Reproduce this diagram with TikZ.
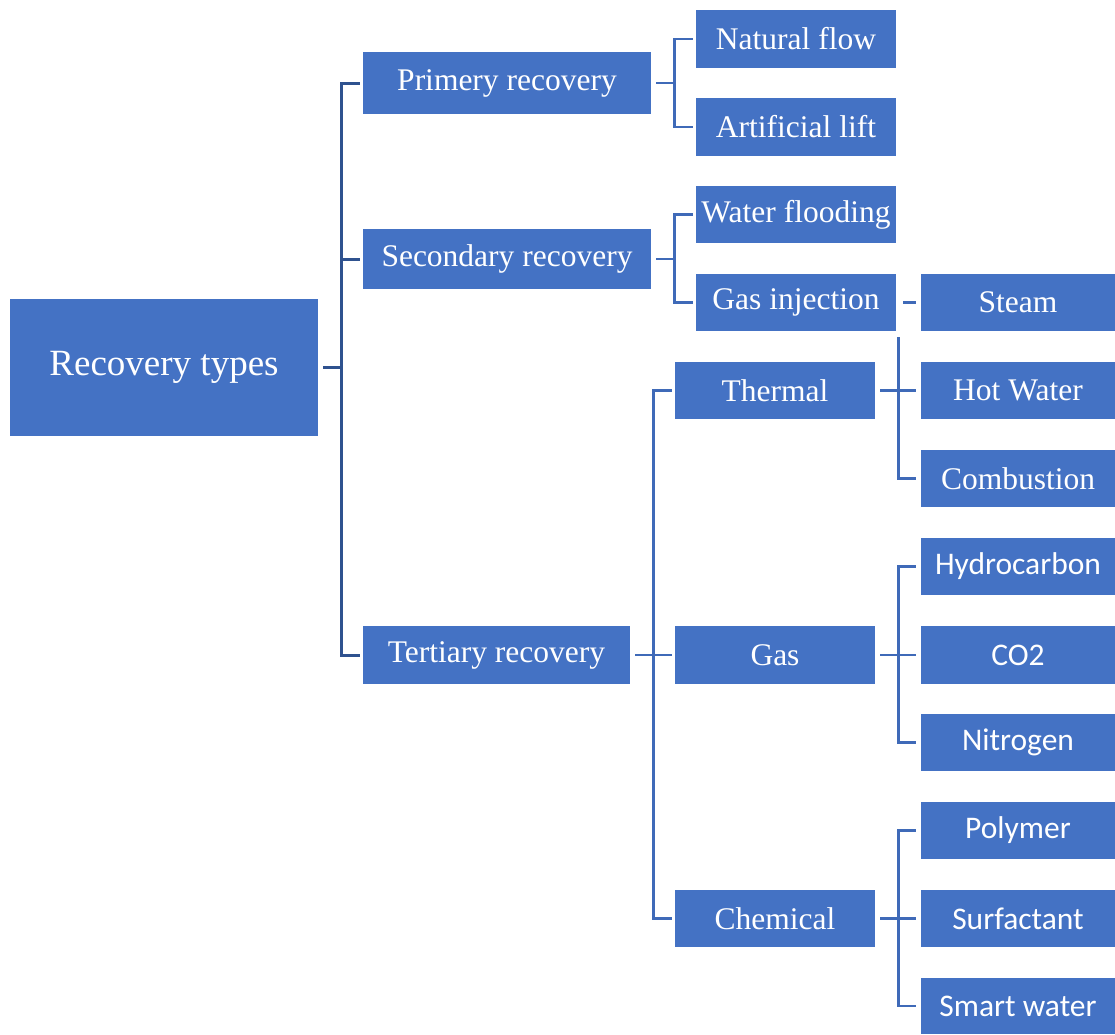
\documentclass[tikz,border=0pt]{standalone}
\usepackage{fontspec}
\setmainfont{Liberation Serif}
\newfontfamily\calibri{Carlito}
\usetikzlibrary{calc}
\usetikzlibrary{positioning}
\definecolor{boxblue}{RGB}{68,114,196}
\definecolor{darkline}{RGB}{47,82,143}
\definecolor{lineblue}{RGB}{63,106,184}
\tikzset{
  box/.style={
    fill=boxblue, text=white, inner sep=0,
    minimum width=200pt, minimum height=58pt,
    font=\fontsize{31.5}{36}\selectfont
  },
  sbox/.style={box, minimum width=194pt, font=\calibri\fontsize{31.5}{36}\selectfont},
  rbox/.style={box, minimum width=194pt},
  trunk/.style={draw=darkline, line width=3pt},
  branch/.style={draw=lineblue, line width=2.6pt}
}

\begin{document}
\begin{tikzpicture}[x=1pt, y=-1pt]
\useasboundingbox (0,0) rectangle (1115,1034);

% first level
\node[box, minimum width=308pt, minimum height=137pt, font=\fontsize{37}{44}\selectfont]
  (root) at (164,367.5) {Recovery types};
\node[box, minimum width=288pt, minimum height=62pt] (prim) at (507,83) {Primery recovery};
\node[box, minimum width=288pt, minimum height=60pt] (sec) at (507,259) {Secondary recovery};
\node[box, minimum width=267pt] (tert) at (496.5,655) {Tertiary recovery};

% second level
\node[box] (nat) at (796,39) {Natural flow};
\node[box] (art) at (796,127) {Artificial lift};
\node[box, minimum height=57pt] (wat) at (796,214.5) {Water flooding};
\node[box, minimum height=57pt] (gasinj) at (796,302.5) {Gas injection};
\node[box, minimum height=57pt] (thermal) at (775,390.5) {Thermal};
\node[box] (gas) at (775,655) {Gas};
\node[box, minimum height=57pt] (chem) at (775,918.5) {Chemical};

% third level
\node[rbox, minimum height=57pt] (steam) at (1018,302.5) {Steam};
\node[rbox, minimum height=57pt] (hot) at (1018,390.5) {Hot Water};
\node[rbox, minimum height=57pt] (comb) at (1018,478.5) {Combustion};
\node[sbox, minimum height=57pt] (hydro) at (1018,566.5) {Hydrocarbon};
\node[sbox] (co2) at (1018,655) {CO2};
\node[sbox, minimum height=57pt] (nitro) at (1018,742.5) {Nitrogen};
\node[sbox, minimum height=57pt] (poly) at (1018,830.5) {Polymer};
\node[sbox, minimum height=57pt] (surf) at (1018,918.5) {Surfactant};
\node[sbox, minimum height=56pt] (smart) at (1018,1006) {Smart water};

% root connectors
\draw[trunk] ([xshift=5pt]root.east) -- ++(18,0) coordinate (rj);
\draw[trunk] ([xshift=-3pt]prim.west) -| (rj) |- ([xshift=-3pt]tert.west);
\draw[trunk] (rj |- sec.west) -- ([xshift=-3pt]sec.west);

% primary and secondary
\draw[branch] ([xshift=5pt]prim.east) -- ++(18,0) coordinate (pj);
\draw[branch] ([xshift=-3pt]nat.west) -| (pj) |- ([xshift=-3pt]art.west);
\draw[branch] ([xshift=5pt]sec.east) -- ++(18,0) coordinate (sj);
\draw[branch] ([xshift=-3pt]wat.west) -| (sj) |- ([xshift=-3pt]gasinj.west);

% tertiary
\draw[branch] ([xshift=5pt]tert.east) -- ++(18,0) coordinate (tj);
\draw[branch] ([xshift=-3pt]thermal.west) -| (tj) |- ([xshift=-3pt]chem.west);
\draw[branch] (tj) -- ([xshift=-3pt]gas.west);

% thermal
\draw[branch] ([xshift=7pt]gasinj.east) -- ([xshift=-5pt]steam.west);
\draw[branch] ([xshift=5pt]thermal.east) -- ([xshift=-5pt]hot.west);
\coordinate (thj) at ([xshift=23pt]thermal.east);
\draw[branch] ($(thj |- gasinj.south)+(0,6)$) |- ([xshift=-5pt]comb.west);

% gas
\draw[branch] ([xshift=5pt]gas.east) -- ++(18,0) coordinate (gj);
\draw[branch] ([xshift=-5pt]hydro.west) -| (gj) |- ([xshift=-5pt]nitro.west);
\draw[branch] (gj) -- ([xshift=-5pt]co2.west);

% chemical
\draw[branch] ([xshift=5pt]chem.east) -- ++(18,0) coordinate (cj);
\draw[branch] ([xshift=-5pt]poly.west) -| (cj) |- ([xshift=-5pt]smart.west);
\draw[branch] (cj) -- ([xshift=-5pt]surf.west);
\end{tikzpicture}
\end{document}
